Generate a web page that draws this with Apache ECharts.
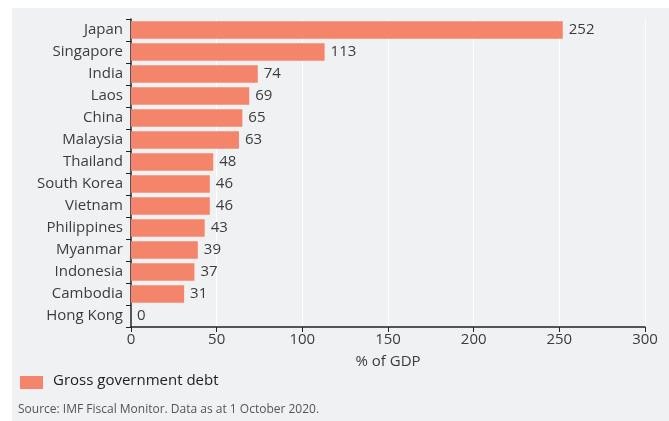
<!DOCTYPE html>
<html>
<head>
<meta charset="utf-8">
<script src="https://cdn.jsdelivr.net/npm/echarts@6/dist/echarts.min.js"></script>
<style>
  html, body { margin: 0; padding: 0; background: #ffffff; }
  #chart { width: 669px; height: 421px; }
</style>
</head>
<body>
<div id="chart"></div>
<script>
// Gross government debt, % of GDP, Asian economies
const countries = ['Japan', 'Singapore', 'India', 'Laos', 'China', 'Malaysia', 'Thailand',
  'South Korea', 'Vietnam', 'Philippines', 'Myanmar', 'Indonesia', 'Cambodia', 'Hong Kong'];
const debt = [252, 113, 74, 69, 65, 63, 48, 46, 46, 43, 39, 37, 31, 0];
const xTicks = [0, 50, 100, 150, 200, 250, 300];

const FONT = '"Open Sans", "Noto Sans", sans-serif';
const TEXT = '#3c3c3c';
const chart = echarts.init(document.getElementById('chart'), null, { renderer: 'canvas' });

chart.setOption({
  animation: false,
  textStyle: { fontFamily: FONT },
  graphic: [
    { type: 'rect', z: -10, shape: { x: 12, y: 8, width: 657, height: 413 },
      style: { fill: '#f0f1f3' } },
    { type: 'rect', shape: { x: 20, y: 376, width: 23, height: 13 },
      style: { fill: '#f4856a' } },
    { type: 'text', left: 53, top: 373,
      style: { text: 'Gross government debt', fontFamily: FONT, fontSize: 15, fill: '#222' } },
    { type: 'text', left: 18, top: 404,
      style: { text: 'Source: IMF Fiscal Monitor. Data as at 1 October 2020.', fontFamily: FONT, fontSize: 12, fill: '#555' } }
  ],
  grid: { left: 131, right: 24, top: 19, bottom: 94 },
  xAxis: {
    type: 'value',
    min: xTicks[0], max: xTicks[xTicks.length - 1], interval: 50,
    name: '% of GDP', nameLocation: 'middle', nameGap: 27,
    nameTextStyle: { fontFamily: FONT, fontSize: 15, color: TEXT },
    axisLine: { show: true, lineStyle: { color: '#222', width: 1.5 } },
    axisTick: { show: true, length: 5, lineStyle: { color: '#222' } },
    axisLabel: { fontFamily: FONT, fontSize: 15, color: TEXT, margin: 5 },
    splitLine: { show: true, lineStyle: { color: '#ffffff', width: 1 } }
  },
  yAxis: {
    type: 'category',
    data: countries,
    inverse: true,
    axisLine: { show: true, lineStyle: { color: '#222', width: 1.5 } },
    axisTick: { show: true, length: 5, lineStyle: { color: '#222' } },
    axisLabel: { fontFamily: FONT, fontSize: 15, color: TEXT, margin: 8 },
    splitLine: { show: false }
  },
  series: [{
    type: 'bar',
    data: debt,
    barCategoryGap: '20%',
    itemStyle: { color: '#f4856a' },
    label: { show: true, position: 'right', distance: 6, fontFamily: FONT, fontSize: 15, color: TEXT }
  }]
});
</script>
</body>
</html>
